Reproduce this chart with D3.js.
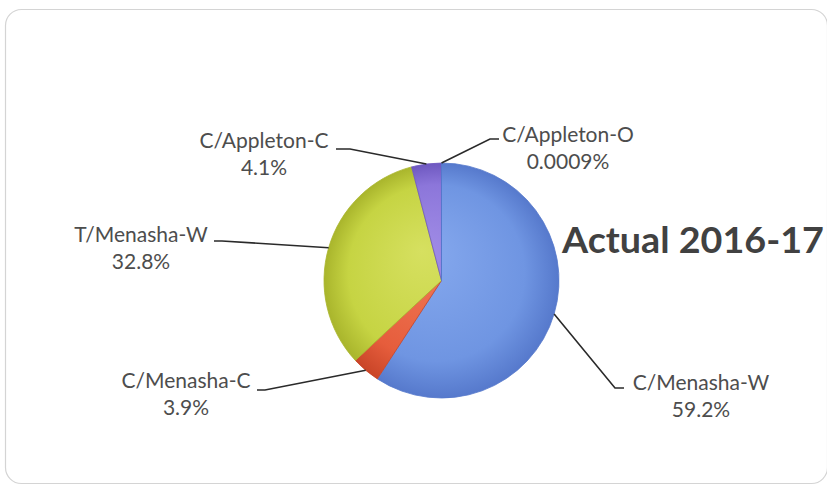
<!DOCTYPE html>
<html>
<head>
<meta charset="utf-8">
<script src="https://cdn.jsdelivr.net/npm/d3@7/dist/d3.min.js"></script>
<style>
  html, body { margin: 0; padding: 0; background: #ffffff; }
  svg { display: block; }
  .lbl { font-family: Lato, "Open Sans", sans-serif; font-size: 21px; fill: #4d4d4d; }
  .title { font-family: Lato, "Open Sans", sans-serif; font-weight: 700; fill: #414141; }
</style>
</head>
<body>
<svg id="chart" width="827" height="487"></svg>
<script>
// Share of actual 2016-17 by district
const categories = ["C/Menasha-W", "C/Menasha-C", "T/Menasha-W", "C/Appleton-C", "C/Appleton-O"];
const shares = [59.2, 3.9, 32.8, 4.1, 0.0009];
const shareLabels = ["59.2%", "3.9%", "32.8%", "4.1%", "0.0009%"];
const chartTitle = "Actual 2016-17";

const cx = 441.5, cy = 280.5, R = 117.5;

const palette = {
  "C/Menasha-W":  { base: "#6f95e2", light: "#86a9ee", dark: "#5679cc" },
  "C/Menasha-C":  { base: "#e65d3c", light: "#f07a58", dark: "#c94528" },
  "T/Menasha-W":  { base: "#c6d443", light: "#d6e060", dark: "#a9b52c" },
  "C/Appleton-C": { base: "#8c76da", light: "#a08ce6", dark: "#6e58c0" },
  "C/Appleton-O": { base: "#6f95e2", light: "#86a9ee", dark: "#5679cc" }
};

// label block centre x, first baseline y, and the leader line's elbow and end
const labelLayout = {
  "C/Menasha-W":  { x: 701, y: 390, elbow: [615, 388], end: [624, 388] },
  "C/Menasha-C":  { x: 186, y: 388, elbow: [265, 390], end: [257, 390] },
  "T/Menasha-W":  { x: 141, y: 242, elbow: [222, 241], end: [214, 241] },
  "C/Appleton-C": { x: 264, y: 148, elbow: [350, 149], end: [336, 149] },
  "C/Appleton-O": { x: 568, y: 142, elbow: [490, 139], end: [499, 139] }
};

const data = categories.map((c, i) => ({ name: c, value: shares[i], text: shareLabels[i] }));

const svg = d3.select("#chart");

// chart frame
svg.append("rect")
  .attr("x", 5.5).attr("y", 9.5)
  .attr("width", 822).attr("height", 474)
  .attr("rx", 16).attr("ry", 16)
  .attr("fill", "#ffffff")
  .attr("stroke", "#d4d4d4")
  .attr("stroke-width", 1.2);

// soft radial shading per slice, in the pie group's own coordinates
const defs = svg.append("defs");
data.forEach((d, i) => {
  const p = palette[d.name];
  const grad = defs.append("radialGradient")
    .attr("id", "grad" + i)
    .attr("gradientUnits", "userSpaceOnUse")
    .attr("cx", 0).attr("cy", 0).attr("r", R)
    .attr("fx", -20).attr("fy", -30);
  grad.append("stop").attr("offset", "0%").attr("stop-color", p.light);
  grad.append("stop").attr("offset", "75%").attr("stop-color", p.base);
  grad.append("stop").attr("offset", "100%").attr("stop-color", p.dark);
});

const pie = d3.pie().sort(null).value(d => d.value).startAngle(0).endAngle(2 * Math.PI);
const arcs = pie(data);
const arc = d3.arc().innerRadius(0).outerRadius(R);
const rimArc = d3.arc().innerRadius(R).outerRadius(R);

const pieG = svg.append("g").attr("transform", `translate(${cx},${cy})`);

pieG.selectAll("path.slice")
  .data(arcs)
  .join("path")
  .attr("class", "slice")
  .attr("d", arc)
  .attr("fill", (d, i) => `url(#grad${i})`)
  .attr("stroke", d => palette[d.data.name].dark)
  .attr("stroke-width", 0.8)
  .attr("stroke-linejoin", "round");

// leader lines from the slice rim to each label
svg.selectAll("path.leader")
  .data(arcs)
  .join("path")
  .attr("class", "leader")
  .attr("fill", "none")
  .attr("stroke", "#2a2a2a")
  .attr("stroke-width", 1.6)
  .attr("d", d => {
    const L = labelLayout[d.data.name];
    const c = rimArc.centroid(d);
    return d3.line()([[cx + c[0], cy + c[1]], L.elbow, L.end]);
  });

const labels = svg.selectAll("text.lbl")
  .data(arcs)
  .join("text")
  .attr("class", "lbl")
  .attr("text-anchor", "middle")
  .attr("x", d => labelLayout[d.data.name].x)
  .attr("y", d => labelLayout[d.data.name].y);
labels.append("tspan").text(d => d.data.name);
labels.append("tspan")
  .attr("x", d => labelLayout[d.data.name].x)
  .attr("dy", 27)
  .text(d => d.data.text);

svg.append("text")
  .attr("class", "title")
  .attr("x", 562).attr("y", 253)
  .attr("font-size", 37)
  .attr("textLength", 262)
  .attr("lengthAdjust", "spacingAndGlyphs")
  .text(chartTitle);
</script>
</body>
</html>
